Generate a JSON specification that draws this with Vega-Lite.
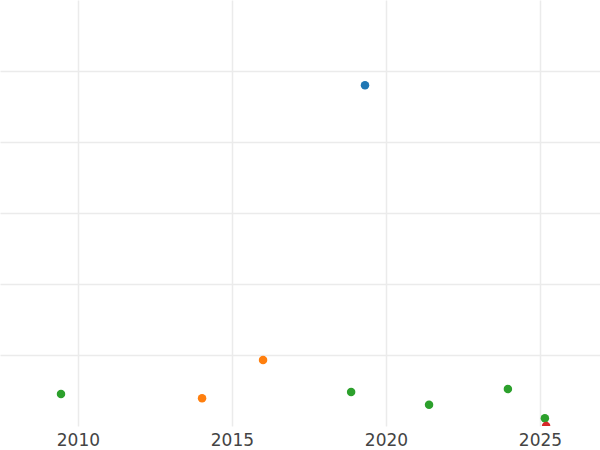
{
  "$schema": "https://vega.github.io/schema/vega-lite/v6.json",
  "width": 600,
  "height": 426,
  "autosize": {"type": "none"},
  "padding": {"left": 0, "top": 0, "right": 0, "bottom": 24},
  "background": "white",
  "config": {
    "view": {"stroke": null},
    "axis": {"gridColor": "#ebebeb", "gridWidth": 1.5, "domain": false, "ticks": false}
  },
  "data": {
    "values": [
      {"year": 2009.45, "value": 0.45, "group": "C"},
      {"year": 2014.03, "value": 0.39, "group": "B"},
      {"year": 2016.01, "value": 0.93, "group": "B"},
      {"year": 2019.32, "value": 4.8, "group": "A"},
      {"year": 2018.87, "value": 0.48, "group": "C"},
      {"year": 2021.4, "value": 0.3, "group": "C"},
      {"year": 2023.96, "value": 0.52, "group": "C"},
      {"year": 2025.16, "value": 0.11, "group": "C"},
      {"year": 2025.2, "value": 0.0, "group": "D"}
    ]
  },
  "mark": {"type": "circle", "size": 72, "opacity": 1, "clip": true},
  "encoding": {
    "x": {
      "field": "year", "type": "quantitative",
      "scale": {"domain": [2007.47, 2026.95], "nice": false, "zero": false},
      "axis": {"title": null, "values": [2010, 2015, 2020, 2025], "format": "d", "labelFontSize": 17, "labelFont": "DejaVu Sans", "labelColor": "#444444", "labelPadding": 6, "labelFlush": false}
    },
    "y": {
      "field": "value", "type": "quantitative",
      "scale": {"domain": [0, 6], "nice": false, "zero": false},
      "axis": {"title": null, "values": [1, 2, 3, 4, 5], "labels": false}
    },
    "color": {
      "field": "group", "type": "nominal",
      "scale": {"domain": ["A", "B", "C", "D"], "range": ["#1f77b4", "#ff7f0e", "#2ca02c", "#d62728"]},
      "legend": null
    }
  }
}
